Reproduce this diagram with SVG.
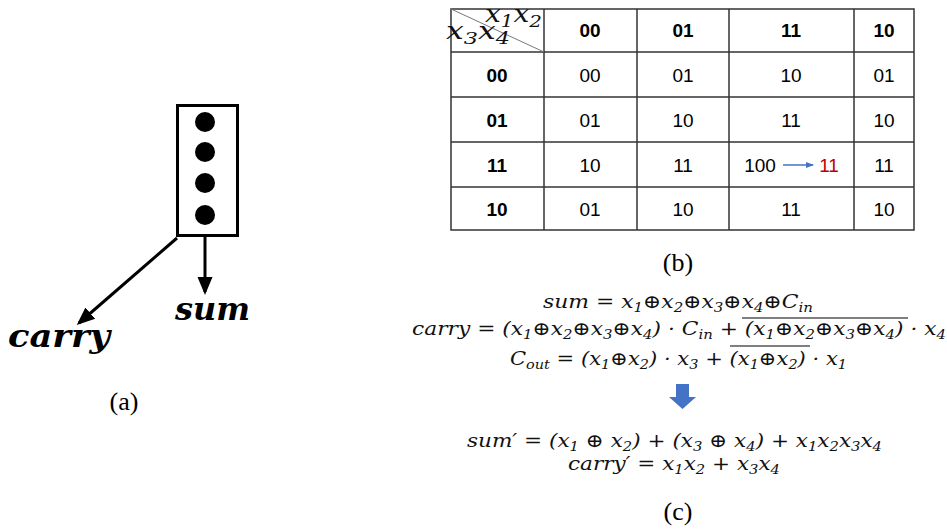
<svg xmlns="http://www.w3.org/2000/svg" width="947" height="531" viewBox="0 0 947 531">
<style>
.lbl{font-family:"Liberation Serif","Times New Roman",serif;font-size:26px;fill:#000}
.big{font-family:"DejaVu Serif",serif;font-weight:bold;font-style:italic;font-size:32px;fill:#000}
.tb{font-family:"Liberation Sans",Arial,sans-serif;font-size:19px;fill:#000;text-anchor:middle}
.tbb{font-weight:bold}
.eq{font-family:"DejaVu Serif",serif;font-style:italic;font-size:19px;fill:#111}
.hd{font-family:"DejaVu Serif",serif;font-style:italic;font-size:24px;fill:#111}
.grid{stroke:#333;stroke-width:1.5;fill:none}
.arr{stroke:#000;stroke-width:3;fill:none}
</style>
<defs>
<marker id="ah" markerWidth="6" markerHeight="6" refX="5" refY="3" orient="auto" markerUnits="strokeWidth">
<path d="M0,0.5 L6,3 L0,5.5 z" fill="#000"/>
</marker>
<marker id="bh" markerWidth="8" markerHeight="8" refX="7" refY="4" orient="auto" markerUnits="userSpaceOnUse">
<path d="M0,1 L8,4 L0,7 z" fill="#4472c4"/>
</marker>
</defs>

<g id="node-block">
<rect x="177.5" y="105.5" width="60" height="130" fill="#fff" stroke="#000" stroke-width="3"/>
<circle cx="205" cy="122" r="10" fill="#000"/>
<circle cx="205" cy="152" r="10" fill="#000"/>
<circle cx="205" cy="183" r="10" fill="#000"/>
<circle cx="205" cy="215" r="10" fill="#000"/>
</g>
<g id="connectors">
<line class="arr" x1="205" y1="237" x2="205" y2="292" marker-end="url(#ah)"/>
<line class="arr" x1="177" y1="238" x2="79" y2="323" marker-end="url(#ah)"/>
</g>
<g id="node-sum"><text class="big" x="175" y="320" textLength="75" lengthAdjust="spacingAndGlyphs">sum</text></g>
<g id="node-carry"><text class="big" x="8" y="347" textLength="102" lengthAdjust="spacingAndGlyphs">carry</text></g>
<text class="lbl" x="124" y="410" text-anchor="middle">(a)</text>

<g id="kmap">
<rect class="grid" x="451" y="9" width="463" height="221"/>
<line class="grid" x1="544" y1="9" x2="544" y2="230"/>
<line class="grid" x1="637" y1="9" x2="637" y2="230"/>
<line class="grid" x1="729" y1="9" x2="729" y2="230"/>
<line class="grid" x1="854" y1="9" x2="854" y2="230"/>
<line class="grid" x1="451" y1="52" x2="914" y2="52"/>
<line class="grid" x1="451" y1="97" x2="914" y2="97"/>
<line class="grid" x1="451" y1="142" x2="914" y2="142"/>
<line class="grid" x1="451" y1="187" x2="914" y2="187"/>
<line x1="451" y1="9" x2="544" y2="52" stroke="#777" stroke-width="1"/>
<text class="hd" x="485" y="22" textLength="57" lengthAdjust="spacingAndGlyphs">x<tspan font-size="17" dy="5">1</tspan><tspan dy="-5">x</tspan><tspan font-size="17" dy="5">2</tspan></text>
<text class="hd" x="446" y="39" textLength="64" lengthAdjust="spacingAndGlyphs">x<tspan font-size="17" dy="5">3</tspan><tspan dy="-5">x</tspan><tspan font-size="17" dy="5">4</tspan></text>
<g class="tb tbb">
<text x="590" y="37">00</text><text x="683" y="37">01</text><text x="791" y="37">11</text><text x="884" y="37">10</text>
<text x="497" y="82">00</text><text x="497" y="127">01</text><text x="497" y="172">11</text><text x="497" y="216">10</text>
</g>
<g class="tb">
<text x="590" y="82">00</text><text x="683" y="82">01</text><text x="791" y="82">10</text><text x="884" y="82">01</text>
<text x="590" y="127">01</text><text x="683" y="127">10</text><text x="791" y="127">11</text><text x="884" y="127">10</text>
<text x="590" y="172">10</text><text x="683" y="172">11</text><text x="760" y="172">100</text><text x="829" y="172" fill="#c00000">11</text><text x="884" y="172">11</text>
<text x="590" y="216">01</text><text x="683" y="216">10</text><text x="791" y="216">11</text><text x="884" y="216">10</text>
</g>
<line x1="783" y1="165" x2="813" y2="165" stroke="#4472c4" stroke-width="1.5" marker-end="url(#bh)"/>
</g>
<text class="lbl" x="678" y="271" text-anchor="middle">(b)</text>

<g id="equations" class="eq">
<text x="543" y="308" textLength="270" lengthAdjust="spacingAndGlyphs">sum =  x<tspan font-size="13" dy="4">1</tspan><tspan dy="-4">⊕x</tspan><tspan font-size="13" dy="4">2</tspan><tspan dy="-4">⊕x</tspan><tspan font-size="13" dy="4">3</tspan><tspan dy="-4">⊕x</tspan><tspan font-size="13" dy="4">4</tspan><tspan dy="-4">⊕C</tspan><tspan font-size="13" dy="4">in</tspan></text>
<text x="412" y="335" textLength="534" lengthAdjust="spacingAndGlyphs">carry =  (x<tspan font-size="13" dy="4">1</tspan><tspan dy="-4">⊕x</tspan><tspan font-size="13" dy="4">2</tspan><tspan dy="-4">⊕x</tspan><tspan font-size="13" dy="4">3</tspan><tspan dy="-4">⊕x</tspan><tspan font-size="13" dy="4">4</tspan><tspan dy="-4">) · C</tspan><tspan font-size="13" dy="4">in</tspan><tspan dy="-4"> + (x</tspan><tspan font-size="13" dy="4">1</tspan><tspan dy="-4">⊕x</tspan><tspan font-size="13" dy="4">2</tspan><tspan dy="-4">⊕x</tspan><tspan font-size="13" dy="4">3</tspan><tspan dy="-4">⊕x</tspan><tspan font-size="13" dy="4">4</tspan><tspan dy="-4">) · x</tspan><tspan font-size="13" dy="4">4</tspan></text>
<text x="510" y="365" textLength="337" lengthAdjust="spacingAndGlyphs">C<tspan font-size="13" dy="4">out</tspan><tspan dy="-4"> =  (x</tspan><tspan font-size="13" dy="4">1</tspan><tspan dy="-4">⊕x</tspan><tspan font-size="13" dy="4">2</tspan><tspan dy="-4">) · x</tspan><tspan font-size="13" dy="4">3</tspan><tspan dy="-4"> + (x</tspan><tspan font-size="13" dy="4">1</tspan><tspan dy="-4">⊕x</tspan><tspan font-size="13" dy="4">2</tspan><tspan dy="-4">) · x</tspan><tspan font-size="13" dy="4">1</tspan></text>
<line x1="742" y1="318" x2="908" y2="318" stroke="#555" stroke-width="1.5"/>
<line x1="730" y1="346" x2="810" y2="346" stroke="#555" stroke-width="1.5"/>
<path d="M676,384 H689 V397 H696 L682.5,409 L669,397 H676 Z" fill="#4472c4"/>
<text x="467" y="447" textLength="415" lengthAdjust="spacingAndGlyphs">sum′ = (x<tspan font-size="13" dy="4">1</tspan><tspan dy="-4"> ⊕ x</tspan><tspan font-size="13" dy="4">2</tspan><tspan dy="-4">) + (x</tspan><tspan font-size="13" dy="4">3</tspan><tspan dy="-4"> ⊕ x</tspan><tspan font-size="13" dy="4">4</tspan><tspan dy="-4">) + x</tspan><tspan font-size="13" dy="4">1</tspan><tspan dy="-4">x</tspan><tspan font-size="13" dy="4">2</tspan><tspan dy="-4">x</tspan><tspan font-size="13" dy="4">3</tspan><tspan dy="-4">x</tspan><tspan font-size="13" dy="4">4</tspan></text>
<text x="568" y="470" textLength="212" lengthAdjust="spacingAndGlyphs">carry′ = x<tspan font-size="13" dy="4">1</tspan><tspan dy="-4">x</tspan><tspan font-size="13" dy="4">2</tspan><tspan dy="-4"> + x</tspan><tspan font-size="13" dy="4">3</tspan><tspan dy="-4">x</tspan><tspan font-size="13" dy="4">4</tspan></text>
</g>
<text class="lbl" x="678" y="520" text-anchor="middle">(c)</text>
</svg>
